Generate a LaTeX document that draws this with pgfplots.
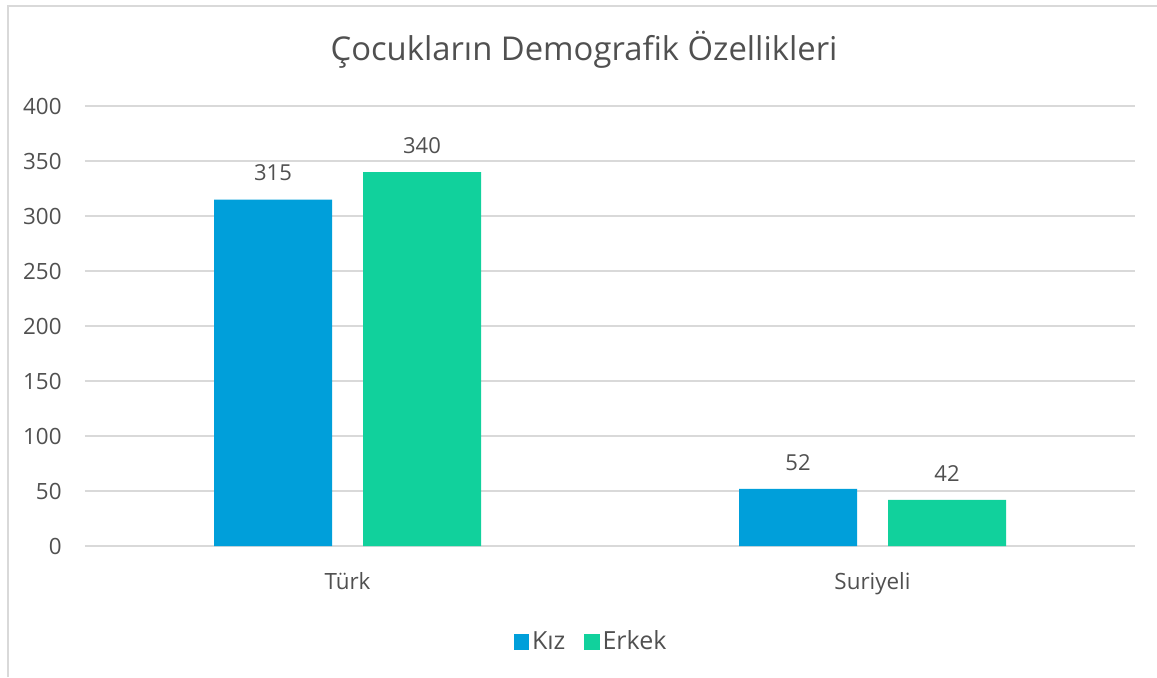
\documentclass[border=0pt]{standalone}
\usepackage{pgfplots}
\pgfplotsset{compat=1.18}
\usepackage{fontspec}
\setmainfont{Open Sans}
\definecolor{kiz}{HTML}{009FDA}
\definecolor{erkek}{HTML}{11D19C}
\definecolor{txt}{HTML}{505050}
\definecolor{grd}{HTML}{D9D9D9}
\begin{document}
\begin{tikzpicture}
\useasboundingbox (0pt,0pt) rectangle (578.5pt,338.5pt);
\draw[grd, line width=1pt] (4pt,0pt) -- (4pt,335.5pt) -- (578.5pt,335.5pt);
\node[text=txt, font=\fontsize{16.4}{20}\selectfont] at (292pt,313.5pt) {Çocukların Demografik Özellikleri};
\begin{axis}[
  at={(42.5pt,65.5pt)}, anchor=south west,
  scale only axis, width=525pt, height=220pt,
  ybar=15.5pt, bar width=59pt,
  xmin=-0.5, xmax=1.5, ymin=0, ymax=400,
  xtick=data, xticklabels={Türk, Suriyeli},
  ytick={0,50,...,400},
  axis line style={draw=none},
  major tick length=0pt,
  ymajorgrids, grid style={grd, line width=0.8pt},
  tick label style={text=txt, font=\fontsize{11.2}{13}\selectfont},
  /pgf/number format/assume math mode=true,
  yticklabel style={inner sep=0pt, xshift=-11.5pt},
  xticklabel style={inner sep=0pt, yshift=-13pt},
  nodes near coords,
  every node near coord/.append style={text=txt, font=\fontsize{11}{13}\selectfont, inner sep=0pt, yshift=9pt},
  legend style={at={(0.4825,-0.218)}, anchor=center, draw=none, fill=none, legend columns=2, font=\fontsize{12.5}{15}\selectfont, text=txt, nodes={inner sep=1.5pt}, /tikz/every even column/.append style={column sep=8pt}},
  legend image code/.code={\fill[#1] (0pt,-3.8pt) rectangle (7.6pt,3.8pt);},
]
\addplot[fill=kiz, draw=none] coordinates {(0,315) (1,52)};
\addplot[fill=erkek, draw=none] coordinates {(0,340) (1,42)};
\legend{Kız, Erkek}
\end{axis}
\end{tikzpicture}
\end{document}
